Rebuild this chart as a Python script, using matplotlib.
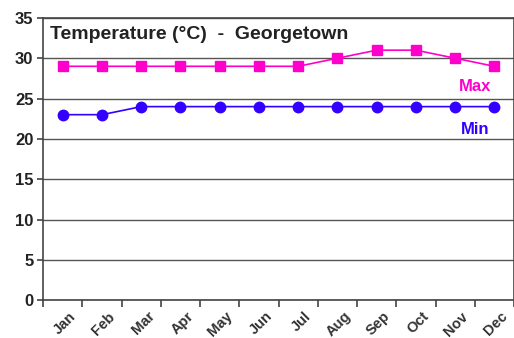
import numpy as np
import matplotlib.pyplot as plt
import matplotlib.transforms as mtransforms

months = ["Jan", "Feb", "Mar", "Apr", "May", "Jun",
          "Jul", "Aug", "Sep", "Oct", "Nov", "Dec"]
t_max = [29, 29, 29, 29, 29, 29, 29, 30, 31, 31, 30, 29]
t_min = [23, 23, 24, 24, 24, 24, 24, 24, 24, 24, 24, 24]
yticks = [0, 5, 10, 15, 20, 25, 30, 35]

plt.rcParams["font.family"] = ["Liberation Sans", "DejaVu Sans"]
plt.rcParams["font.weight"] = "bold"

fig = plt.figure(figsize=(5.14, 3.38), dpi=100)
ax = fig.add_axes([0.084, 0.112, 0.916, 0.835])

x = np.arange(len(months)) + 0.5
ax.plot(x, t_max, color="#ff00cc", lw=1.2, marker="s", ms=7.5, zorder=3)
ax.plot(x, t_min, color="#3300ff", lw=1.2, marker="o", ms=7.5, zorder=3)

ax.set_xlim(0, 12)
ax.set_ylim(0, 35)
ax.set_yticks(yticks)
ax.set_yticklabels([str(v) for v in yticks], fontsize=12, color="#222222")
ax.yaxis.grid(True, color="#555555", lw=1)
ax.set_axisbelow(True)

# ticks sit on month boundaries, labels in between
ax.set_xticks(np.arange(13), minor=False)
ax.set_xticklabels([])
ax.set_xticks(x, minor=True)
ax.set_xticklabels(months, minor=True, rotation=45, ha="right",
                   rotation_mode="anchor", fontsize=10.5, color="#333333")
ax.tick_params(axis="x", which="major", length=5, width=1.2, color="#444444")
ax.tick_params(axis="x", which="minor", length=0, pad=6.5)
ax.tick_params(axis="y", length=4, width=1.2, color="#444444", pad=3)
offset = mtransforms.ScaledTranslation(6 / 100, 0, fig.dpi_scale_trans)
for lbl in ax.get_xticklabels(minor=True):
    lbl.set_transform(lbl.get_transform() + offset)

for s in ax.spines.values():
    s.set_color("#444444")
    s.set_linewidth(1.2)

ax.text(0.014, 0.942, "Temperature (\u00b0C)  -  Georgetown", transform=ax.transAxes,
        fontsize=14, fontweight="bold", color="#222222", va="center", ha="left")
ax.text(11.0, 26.55, "Max", color="#ff00cc", fontsize=12, fontweight="bold",
        ha="center", va="center")
ax.text(11.0, 21.1, "Min", color="#3300ff", fontsize=12, fontweight="bold",
        ha="center", va="center")

fig.savefig("out.png", dpi=100)
